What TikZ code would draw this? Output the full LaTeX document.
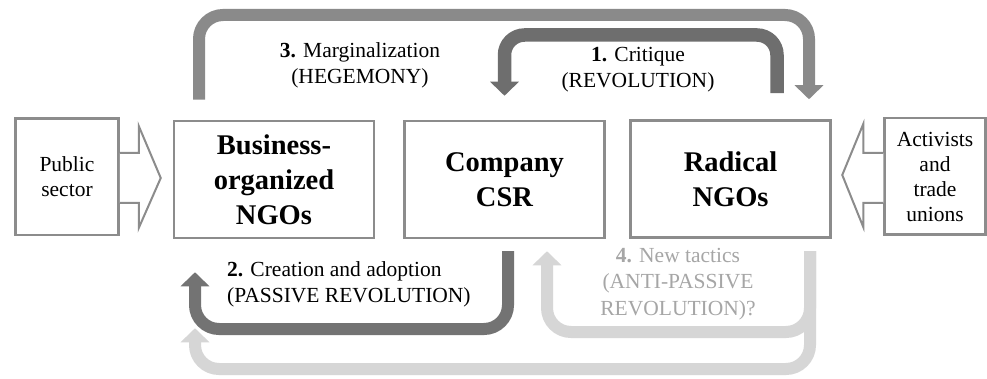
\documentclass[tikz,border=0pt]{standalone}
\usepackage{fontspec}
\setmainfont{Liberation Serif}
\usetikzlibrary{arrows.meta,calc}
\definecolor{aone}{HTML}{6E6E6E}
\definecolor{athree}{HTML}{8A8A8A}
\definecolor{atwo}{HTML}{737373}
\definecolor{afour}{HTML}{D6D6D6}
\definecolor{tfour}{HTML}{A6A6A6}
\definecolor{bord}{HTML}{8C8C8C}
\begin{document}
\begin{tikzpicture}[x=1pt,y=-1pt,
 box/.style={draw=bord,line width=2.5pt,fill=white,inner sep=0pt,align=center},
 big/.style={box,minimum width=200pt,minimum height=117pt,font=\fontsize{28.5}{35}\selectfont\bfseries},
 small/.style={box,minimum width=103pt,minimum height=116.5pt,font=\fontsize{21.5}{25}\selectfont},
 lbl/.style={inner sep=0pt,align=center,font=\fontsize{21.5}{26}\selectfont},
 flow/.style={line width=12pt,rounded corners=24pt,-{Triangle[width=28pt,length=14pt]}},
 hollow/.style={draw=bord,line width=2pt,fill=white,line join=miter}]
\useasboundingbox[fill=white] (0,0) rectangle (987,379);

% boxes
\node[small] (pub) at (67,177) {Public\\sector};
\node[big] (bngo) at (274,179.5) {Business-\\organized\\NGOs};
\node[big] (csr) at (504.5,179.5) {Company\\CSR};
\node[big] (rad) at (730.5,179) {Radical\\NGOs};
\node[small,minimum width=101pt] (act) at (935,176.5) {Activists\\and\\trade\\unions};

% hollow block arrows
\draw[hollow] ($(pub.east)+(0,-24)$) -- ($(pub.east)+(19,-24)$) -- ($(pub.east)+(19,-51)$)
  -- ($(pub.east)+(41,1)$) -- ($(pub.east)+(19,51)$) -- ($(pub.east)+(19,26)$) -- ($(pub.east)+(0,26)$);
\draw[hollow] ($(act.west)+(0,-23.5)$) -- ($(act.west)+(-20,-23.5)$) -- ($(act.west)+(-20,-52.5)$)
  -- ($(act.west)+(-41,-1.5)$) -- ($(act.west)+(-20,50.5)$) -- ($(act.west)+(-20,26.5)$) -- ($(act.west)+(0,26.5)$);

% named waypoints
\coordinate (m0) at ([xshift=-75pt,yshift=20pt]bngo.north);
\coordinate (m1) at (m0 |- 0,15);
\coordinate (m3) at ([xshift=78.5pt,yshift=20pt]rad.north);
\coordinate (m2) at (m3 |- 0,15);

\coordinate (c0) at ([xshift=46.5pt,yshift=26pt]rad.north);
\coordinate (c1) at (c0 |- 0,35);
\coordinate (c3) at ([yshift=24pt]csr.north);
\coordinate (c2) at (c3 |- 0,35);

\coordinate (p0) at ([xshift=3.5pt,yshift=-12pt]csr.south);
\coordinate (p1) at (p0 |- 0,329);
\coordinate (p3) at ([xshift=-79pt,yshift=-33pt]bngo.south);
\coordinate (p2) at (p3 |- 0,329);

\coordinate (n0) at ([xshift=79.5pt,yshift=-12.5pt]rad.south);
\coordinate (n1) at (n0 |- 0,332);
\coordinate (n3) at ([xshift=42.5pt,yshift=-12pt]csr.south);
\coordinate (n2) at (n3 |- 0,332);
\coordinate (q1) at (n0 |- 0,369);
\coordinate (q3) at ([xshift=-79pt,yshift=-89pt]bngo.south);
\coordinate (q2) at (q3 |- 0,369);

% flow arrows
\draw[flow,afour] (n0) -- (q1) -- (q2) -- (q3);
\draw[flow,afour] (n0) -- (n1) -- (n2) -- (n3);
\draw[flow,athree] (m0) -- (m1) -- (m2) -- (m3);
\draw[flow,aone,line width=13.5pt,rounded corners=20pt] (c0) -- (c1) -- (c2) -- (c3);
\draw[flow,atwo] (p0) -- (p1) -- (p2) -- (p3);

% labels
\node[lbl] (l3) at (360,65) {\textbf{3.} Marginalization\\(HEGEMONY)};
\node[lbl] (l1) at (638,70) {\textbf{1.} Critique\\(REVOLUTION)};
\node[lbl,align=left,anchor=west] (l2) at (227,284) {\textbf{2.} Creation and adoption\\(PASSIVE REVOLUTION)};
\node[lbl,text=tfour,font=\fontsize{21.5}{26.5}\selectfont] (l4) at (678,284) {\textbf{4.} New tactics\\(ANTI-PASSIVE\\REVOLUTION)?};
\end{tikzpicture}
\end{document}
